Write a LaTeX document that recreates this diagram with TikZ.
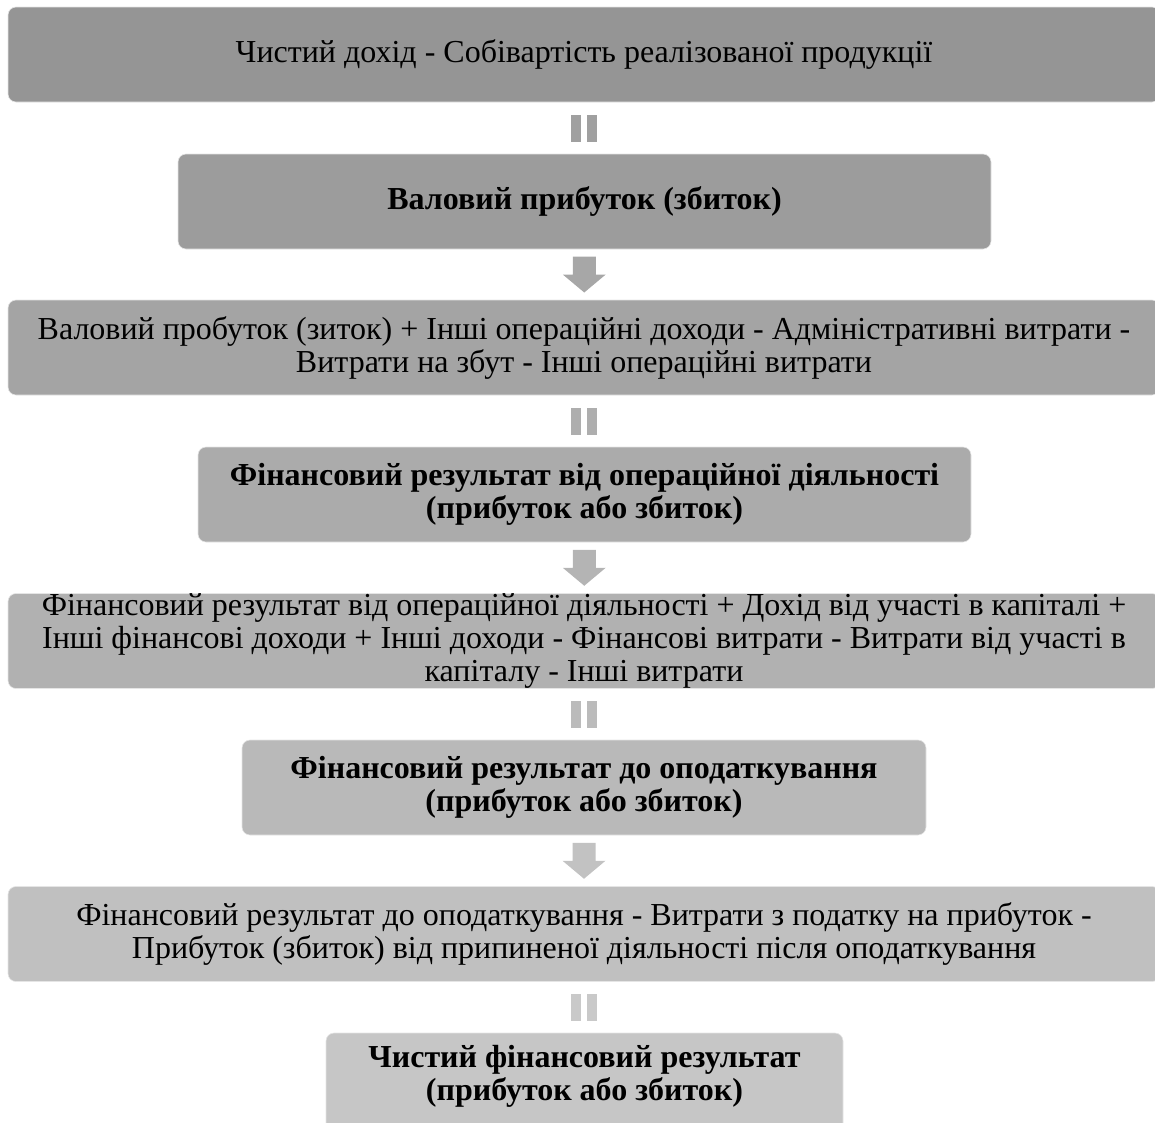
\documentclass[tikz,border=0pt]{standalone}
\usepackage{fontspec}
\setmainfont{Liberation Serif}
\usetikzlibrary{calc}
\definecolor{g1}{HTML}{959595}
\definecolor{g2}{HTML}{9C9C9C}
\definecolor{g3}{HTML}{A4A4A4}
\definecolor{g4}{HTML}{ABABAB}
\definecolor{g5}{HTML}{B1B1B1}
\definecolor{g6}{HTML}{B9B9B9}
\definecolor{g7}{HTML}{C0C0C0}
\definecolor{g8}{HTML}{C6C6C6}
\definecolor{c1}{HTML}{A0A0A0}
\definecolor{c2}{HTML}{A7A7A7}
\definecolor{c3}{HTML}{AEAEAE}
\definecolor{c4}{HTML}{B4B4B4}
\definecolor{c5}{HTML}{BBBBBB}
\definecolor{c6}{HTML}{C2C2C2}
\definecolor{c7}{HTML}{C9C9C9}
\begin{document}
\begin{tikzpicture}[x=1pt,y=-1pt,
  box/.style={rounded corners=8pt, draw=white!80!gray, line width=0.6pt, inner sep=0pt,
    align=center, text=black, font=\fontsize{32}{33}\selectfont},
  boldbox/.style={box, font=\fontsize{32}{33}\selectfont\bfseries},
  txt/.style={align=center, text=black, inner sep=0pt, font=\fontsize{32}{33}\selectfont\bfseries},
]
\useasboundingbox (0,0) rectangle (1155,1122);
\clip (0,0) rectangle (1155,1122);

\node[box, fill=g1, minimum width=1152pt, minimum height=95pt] (b1) at (584,54.5)
  {Чистий дохід - Собівартість реалізованої продукції};
\node[boldbox, fill=g2, minimum width=813pt, minimum height=95pt] (b2) at (584.5,201.5)
  {Валовий прибуток (збиток)};
\node[box, fill=g3, minimum width=1152pt, minimum height=95pt] (b3) at (584,347.5)
  {Валовий пробуток (зиток) + Інші операційні доходи - Адміністративні витрати -\\
   Витрати на збут - Інші операційні витрати};
\node[boldbox, fill=g4, minimum width=773pt, minimum height=95pt] (b4) at (584.5,494.5)
  {Фінансовий результат від операційної діяльності\\(прибуток або збиток)};
\node[box, fill=g5, minimum width=1152pt, minimum height=95pt] (b5) at (584,641)
  {Фінансовий результат від операційної діяльності + Дохід від участі в капіталі +\\
   Інші фінансові доходи + Інші доходи - Фінансові витрати - Витрати від участі в\\
   капіталу - Інші витрати};
\node[boldbox, fill=g6, minimum width=684pt, minimum height=95pt] (b6) at (584,787.5)
  {Фінансовий результат до оподаткування\\(прибуток або збиток)};
\node[box, fill=g7, minimum width=1152pt, minimum height=95pt] (b7) at (584,934)
  {Фінансовий результат до оподаткування - Витрати з податку на прибуток -\\
   Прибуток (збиток) від припиненої діяльності після оподаткування};
\node[box, fill=g8, minimum width=517pt, minimum height=110pt] (b8) at (584.5,1088) {};
\node[txt] (t8) at (584.5,1076) {Чистий фінансовий результат\\(прибуток або збиток)};

% connectors
\coordinate (m1) at ($(b1.south)!0.5!(b2.north)$);
\coordinate (m2) at ($(b2.south)!0.5!(b3.north)$);
\coordinate (m3) at ($(b3.south)!0.5!(b4.north)$);
\coordinate (m4) at ($(b4.south)!0.5!(b5.north)$);
\coordinate (m5) at ($(b5.south)!0.5!(b6.north)$);
\coordinate (m6) at ($(b6.south)!0.5!(b7.north)$);
\coordinate (m7) at ($(b7.south)!0.5!(b8.north)$);

\foreach \m/\c in {m1/c1, m3/c3, m5/c5, m7/c7}{
  \begin{scope}[shift={(\m)}]
    \fill[\c] (-13,-13.5) rectangle (-3,13.5);
    \fill[\c] (3,-13.5) rectangle (13,13.5);
  \end{scope}
}
\foreach \m/\c in {m2/c2, m4/c4, m6/c6}{
  \begin{scope}[shift={(\m)}]
    \fill[\c] (-11.5,-18) -- (11.5,-18) -- (11.5,0) -- (21.5,0) -- (0,18)
      -- (-21.5,0) -- (-11.5,0) -- cycle;
  \end{scope}
}
\end{tikzpicture}
\end{document}
